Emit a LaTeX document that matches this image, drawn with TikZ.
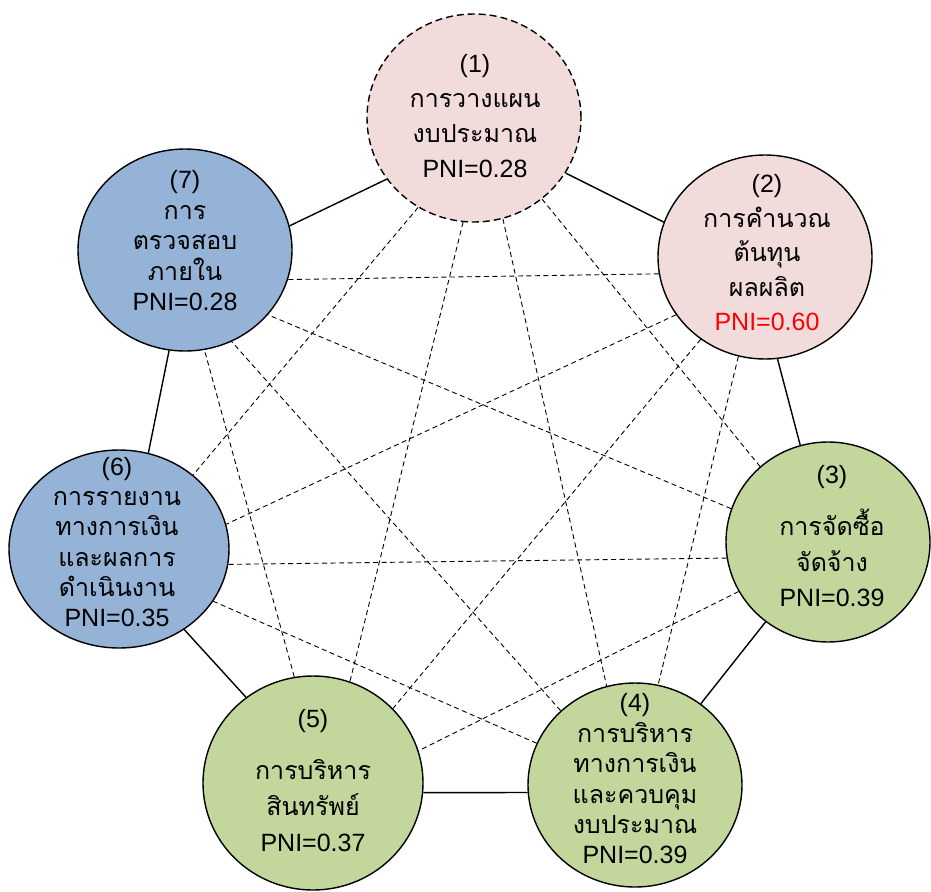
\documentclass[tikz,border=0pt]{standalone}
\usepackage{fontspec}
\setmainfont{Liberation Sans}
\newfontfamily\thaifont[Script=Thai]{Loma}
\usetikzlibrary{shapes.geometric}
\definecolor{pinkfill}{HTML}{F2DCDB}
\definecolor{greenfill}{HTML}{C3D69B}
\definecolor{bluefill}{HTML}{95B3D7}
\newcommand{\thtxt}[1]{{\thaifont #1}}
\begin{document}
\begin{tikzpicture}[x=1pt,y=-1pt,
  unit/.style={ellipse, draw=black, line width=1.4pt, inner sep=0pt},
  link/.style={draw=black, line width=1.4pt},
  cross/.style={draw=black, line width=0.9pt, dash pattern=on 5pt off 3.5pt},
  label/.style={align=center, inner sep=0pt, text=black}]
\useasboundingbox (0,0) rectangle (931,891);

% the seven work units
\node[unit, fill=pinkfill, dash pattern=on 7pt off 4pt, minimum width=214pt, minimum height=208pt] (c1) at (474,118) {};
\node[unit, fill=pinkfill, minimum width=214pt, minimum height=204pt] (c2) at (765,257) {};
\node[unit, fill=greenfill, minimum width=204pt, minimum height=200pt] (c3) at (828,542) {};
\node[unit, fill=greenfill, minimum width=214pt, minimum height=204pt] (c4) at (635,785) {};
\node[unit, fill=greenfill, minimum width=220pt, minimum height=214pt] (c5) at (313,783) {};
\node[unit, fill=bluefill, minimum width=220pt, minimum height=198pt] (c6) at (119,549) {};
\node[unit, fill=bluefill, minimum width=214pt, minimum height=202pt] (c7) at (185,250) {};

% neighbouring units
\draw[link] (c7.13.6) -- (c1.-145.4);
\draw[link] (c1.-31.1) -- (c2.161);
\draw[link] (c2.-83) -- (c3.106.9);
\draw[link] (c3.-128.2) -- (c4.51.6);
\draw[link] (c5.-5.2) -- (c4.184.2);
\draw[link] (c6.-51.7) -- (c5.128.7);
\draw[link] (c6.73.7) -- (c7.-99.5);

% links across the ring
\draw[cross] (c1.-50) -- (c3.132.3);
\draw[cross] (c1.-74.6) -- (c4.106.7);
\draw[cross] (c1.-96.5) -- (c5.70.4);
\draw[cross] (c1.-122) -- (c6.45.8);
\draw[cross] (c2.-105.4) -- (c4.77.7);
\draw[cross] (c2.-128.9) -- (c5.43.6);
\draw[cross] (c2.-147.5) -- (c6.13.8);
\draw[cross] (c2.-171.2) -- (c7.-16.1);
\draw[cross] (c3.-151.4) -- (c5.17.6);
\draw[cross] (c3.-171.1) -- (c6.-8.4);
\draw[cross] (c3.161.9) -- (c7.-38.9);
\draw[cross] (c4.157.3) -- (c6.-29);
\draw[cross] (c4.135) -- (c7.-63.7);
\draw[cross] (c5.100.7) -- (c7.-79);

% texts
\node[label, font=\fontsize{25}{35}\selectfont] (t1) at (475,116.5)
  {(1)\\\thtxt{การวางแผน}\\\thtxt{งบประมาณ}\\PNI=0.28};
\node[label, font=\fontsize{25}{34.5}\selectfont] (t2) at (767,253)
  {(2)\\\thtxt{การคำนวณ}\\\thtxt{ต้นทุน}\\\thtxt{ผลผลิต}\\\textcolor{red}{PNI=0.60}};
\node[label, font=\fontsize{25}{35.5}\selectfont] (t3) at (832,536)
  {(3)\\[17pt]\thtxt{การจัดซื้อ}\\\thtxt{จัดจ้าง}\\PNI=0.39};
\node[label, font=\fontsize{25}{30.4}\selectfont] (t4) at (635,779)
  {(4)\\\thtxt{การบริหาร}\\\thtxt{ทางการเงิน}\\\thtxt{และควบคุม}\\\thtxt{งบประมาณ}\\PNI=0.39};
\node[label, font=\fontsize{25}{36}\selectfont] (t5) at (313,781)
  {(5)\\[16pt]\thtxt{การบริหาร}\\\thtxt{สินทรัพย์}\\PNI=0.37};
\node[label, font=\fontsize{25}{30.2}\selectfont] (t6) at (117,542)
  {(6)\\\thtxt{การรายงาน}\\\thtxt{ทางการเงิน}\\\thtxt{และผลการ}\\\thtxt{ดำเนินงาน}\\PNI=0.35};
\node[label, font=\fontsize{25}{30.5}\selectfont] (t7) at (185,241)
  {(7)\\\thtxt{การ}\\\thtxt{ตรวจสอบ}\\\thtxt{ภายใน}\\PNI=0.28};
\end{tikzpicture}
\end{document}
